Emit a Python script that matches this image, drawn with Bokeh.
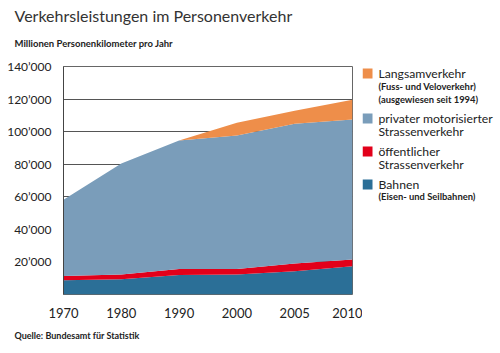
from bokeh.plotting import figure
from bokeh.models import ColumnDataSource, Range1d, FixedTicker, Label
from bokeh.layouts import column, row
from bokeh.embed import file_html
from bokeh.resources import INLINE

# ---- data (Millionen Personenkilometer pro Jahr) ----
years = ["1970", "1980", "1990", "2000", "2005", "2010"]
bahnen = [8700, 9300, 11900, 12300, 14300, 17400]
oeffentlich = [2600, 3000, 3800, 3400, 4700, 4100]
privat = [46900, 68100, 78900, 82000, 85800, 85900]
langsam = [0, 0, 0, 7700, 8100, 12200]
y_ticks = [20000, 40000, 60000, 80000, 100000, 120000, 140000]

FONT = "Lato"
C_LANG = "#EE8E4A"
C_PRIV = "#7A9DBA"
C_OEFF = "#E2001A"
C_BAHN = "#2B6F97"
TXT = "#222222"

W, H = 500, 353
TOP_H = 55          # title band height
BOT_H = 33          # source band height
MID_H = H - TOP_H - BOT_H
FL, FR, FT, FB = 63, 352, 66, 294   # frame left, right, top, bottom (page px)
CHART_W = 362       # chart figure width (room for last x label)
BORDER_TOP = FT - TOP_H
BORDER_BOTTOM = TOP_H + MID_H - FB


def text_fig(w, h, x0, y0, btop=0, bbot=0):
    """Blank figure whose data coordinates equal page pixels."""
    f = figure(width=w, height=h, output_backend="svg", toolbar_location=None,
               x_range=Range1d(x0, x0 + w), y_range=Range1d(y0 + h - bbot, y0 + btop),
               x_axis_type=None, y_axis_type=None, min_border=0,
               min_border_top=btop, min_border_bottom=bbot)
    f.outline_line_color = None
    f.grid.visible = False
    f.background_fill_color = "white"
    f.border_fill_color = "white"
    return f


def label(f, px, py, text, size, bold=False, color=TXT):
    f.add_layout(Label(x=px, y=py, text=text, text_font=FONT,
                       text_font_size=f"{size}px", text_baseline="middle",
                       text_align="left", text_color=color,
                       text_font_style="bold" if bold else "normal"))


# ---- title band ----
top = text_fig(W, TOP_H, 0, 0)
label(top, 14, 15, "Verkehrsleistungen im Personenverkehr", 16, color="#333333")
label(top, 14, 43, "Millionen Personenkilometer pro Jahr", 9.5, bold=True)

# ---- chart ----
src = ColumnDataSource(dict(x=list(range(len(years))), bahnen=bahnen,
                            oeffentlich=oeffentlich, privat=privat, langsam=langsam))

p = figure(width=CHART_W, height=MID_H, output_backend="svg", toolbar_location=None,
           x_range=Range1d(0, len(years) - 1), y_range=Range1d(0, 140000),
           min_border_left=FL, min_border_right=CHART_W - FR, min_border_top=BORDER_TOP,
           min_border_bottom=BORDER_BOTTOM)
p.background_fill_color = "white"
p.border_fill_color = "white"
p.outline_line_color = "#666666"
p.outline_line_width = 1

p.varea_stack(stackers=["bahnen", "oeffentlich", "privat", "langsam"], x="x",
              color=[C_BAHN, C_OEFF, C_PRIV, C_LANG], source=src)

p.xaxis.ticker = FixedTicker(ticks=list(range(len(years))))
p.xaxis.major_label_overrides = {i: y for i, y in enumerate(years)}
p.xaxis.axis_line_color = None
p.xaxis.major_tick_line_color = None
p.xaxis.minor_tick_line_color = None
p.xaxis.major_label_standoff = 7
p.xaxis.major_label_text_font = FONT
p.xaxis.major_label_text_font_size = "13px"
p.xaxis.major_label_text_color = TXT

p.yaxis.ticker = FixedTicker(ticks=y_ticks)
p.yaxis.major_label_overrides = {t: f"{t // 1000}\u2019000" for t in y_ticks}
p.yaxis.axis_line_color = "#444444"
p.yaxis.major_tick_line_color = None
p.yaxis.minor_tick_line_color = None
p.yaxis.major_label_standoff = 6
p.yaxis.major_label_text_font = FONT
p.yaxis.major_label_text_font_size = "12px"
p.yaxis.major_label_text_color = TXT

p.xgrid.grid_line_color = None
p.ygrid.ticker = FixedTicker(ticks=y_ticks)
p.ygrid.grid_line_color = "#555555"
p.ygrid.grid_line_width = 1

# ---- legend band (frame aligned with chart frame) ----
leg = text_fig(W - CHART_W, MID_H, CHART_W, TOP_H, BORDER_TOP, BORDER_BOTTOM)
sq_x, sq_size = 367, 10
legend_rows = [
    (C_LANG, 73, [("Langsamverkehr", 73, 12.2, False),
                  ("(Fuss- und Veloverkehr)", 86, 9.4, True),
                  ("(ausgewiesen seit 1994)", 99, 9.4, True)]),
    (C_PRIV, 118, [("privater motorisierter", 118, 12.2, False),
                   ("Strassenverkehr", 131, 12.2, False)]),
    (C_OEFF, 151, [("\u00f6ffentlicher", 151, 12.2, False),
                   ("Strassenverkehr", 164, 12.2, False)]),
    (C_BAHN, 184, [("Bahnen", 184, 12.2, False),
                   ("(Eisen- und Seilbahnen)", 196, 9.4, True)]),
]
for color, yc, lines in legend_rows:
    leg.rect(x=[sq_x], y=[yc], width=sq_size, height=sq_size,
             fill_color=color, line_color=None)
    for txt, ly, size, bold in lines:
        label(leg, 378, ly, txt, size, bold)

# ---- source band ----
bot = text_fig(W, BOT_H, 0, H - BOT_H)
label(bot, 14, 335, "Quelle: Bundesamt f\u00fcr Statistik", 9, bold=True)

layout = column(top, row(p, leg), bot)
open("out.html", "w").write(file_html(layout, INLINE))
